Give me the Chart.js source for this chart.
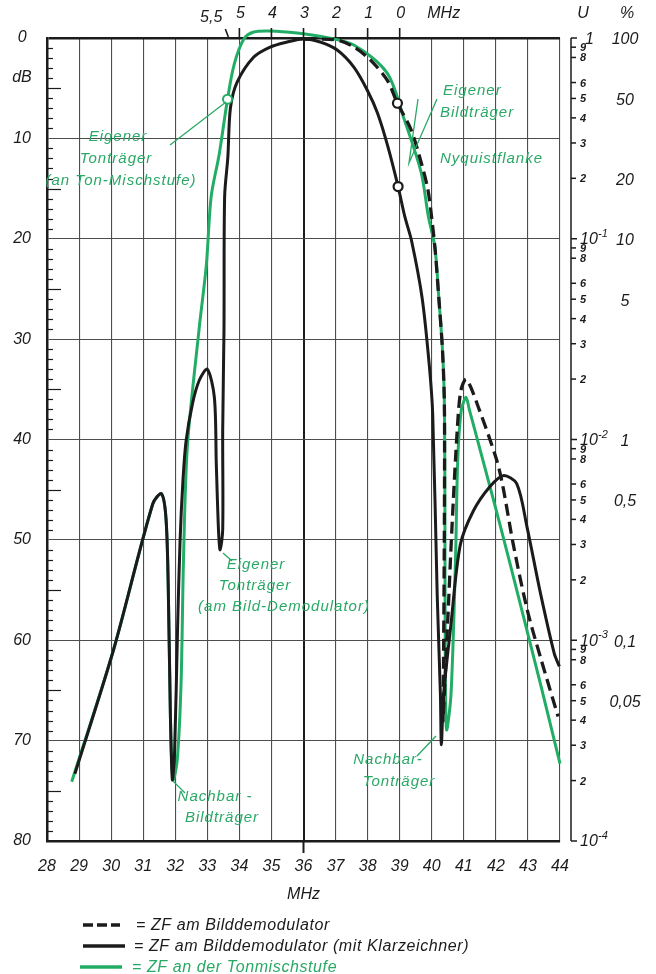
<!DOCTYPE html>
<html><head><meta charset="utf-8">
<script src="https://cdn.jsdelivr.net/npm/chart.js@4.4.0/dist/chart.umd.min.js"></script>
<style>
html,body{margin:0;padding:0;background:#fff;}
#wrap{position:relative;width:656px;height:974px;}
canvas{position:absolute;left:0;top:0;}
</style></head><body>
<div id="wrap"><canvas id="c" width="656" height="974"></canvas></div>
<script>
// ---------- data (MHz, dB) ----------
const freqGreen = [28.77, 30.08, 31.30, 31.57, 31.71, 31.78, 31.85, 31.93, 32.06, 32.18, 32.26, 32.38, 32.74, 32.97, 33.12, 33.37, 33.63, 33.84, 34.14, 34.45, 34.96, 35.80, 36.63, 37.57, 38.61, 39.14, 39.67, 39.89, 40.10, 40.22, 40.33, 40.39, 40.41, 40.42, 40.46, 40.60, 40.74, 40.81, 40.92, 41.07, 41.17, 41.49, 42.13, 42.77, 43.41, 44.00];
const dbGreen   = [74.1, 60.9, 46.4, 45.4, 47.8, 54.4, 67.7, 73.9, 72.0, 64.4, 51.6, 40.6, 29.1, 22.6, 15.8, 11.6, 6.1, 2.6, 0.1, -0.6, -0.7, -0.5, -0.1, 0.7, 3.5, 8.1, 13.4, 17.7, 20.9, 25.9, 30.8, 35.8, 45.8, 60.7, 68.9, 65.4, 52.1, 42.1, 37.1, 35.8, 37.0, 40.8, 48.5, 56.5, 64.6, 72.3];

const freqSolid = [28.87, 30.08, 31.30, 31.57, 31.71, 31.78, 31.85, 31.91, 31.98, 32.07, 32.15, 32.24, 32.34, 32.54, 32.75, 33.00, 33.22, 33.28, 33.35, 33.40, 33.48, 33.48, 33.52, 33.54, 33.64, 33.72, 33.93, 34.45, 34.96, 35.49, 36.01, 36.52, 37.05, 37.57, 37.99, 38.31, 38.63, 38.95, 39.16, 39.37, 39.70, 39.92, 40.03, 40.17, 40.27, 40.30, 40.37, 40.59, 40.89, 41.30, 41.81, 42.23, 42.65, 42.97, 43.39, 43.82, 43.98];
const dbSolid   = [73.3, 60.9, 46.4, 45.4, 47.8, 54.4, 67.7, 73.9, 71.0, 59.1, 50.1, 44.1, 40.1, 36.4, 34.1, 33.0, 35.8, 42.4, 49.1, 51.0, 49.0, 39.1, 29.1, 15.8, 11.9, 7.0, 4.4, 1.9, 0.9, 0.4, 0.1, 0.4, 1.2, 2.9, 5.2, 7.5, 10.8, 14.8, 17.8, 20.2, 25.9, 32.5, 37.5, 55.5, 65.4, 70.4, 65.4, 58.7, 50.5, 47.1, 44.7, 43.6, 44.4, 48.7, 55.3, 61.3, 62.6];

const freqDashed = [36.01, 37.05, 37.57, 38.09, 38.61, 38.93, 39.35, 39.67, 39.88, 39.99, 40.10, 40.22, 40.33, 40.39, 40.40, 40.39, 40.36, 40.35, 40.49, 40.63, 40.80, 40.91, 41.08, 41.49, 42.02, 42.22, 42.54, 42.98, 43.41, 43.94];
const dbDashed   = [0.1, 0.2, 0.9, 2.2, 4.2, 6.5, 9.1, 12.4, 15.1, 17.7, 20.9, 25.9, 30.8, 35.8, 40.8, 50.8, 65.7, 68.0, 58.7, 48.8, 38.8, 35.1, 34.0, 37.1, 42.0, 44.7, 50.4, 57.0, 61.9, 67.6];

// carrier markers (open circles)
const markFreqBlack = [38.93, 38.95];
const markDbBlack   = [6.5, 14.8];
const markFreqGreen = [33.63];
const markDbGreen   = [6.1];

// axis ticks / labels
const xTickStep = 1;
const yTickStep = 10;
const pictureCarrier = 39;
const topOffsets = [5.5, 5, 4, 3, 2, 1, 0];
const topLabels  = ['5,5', '5', '4', '3', '2', '1', '0'];
const uMinorDigits = [9, 8, 6, 5, 4, 3, 2];
const uDecades = [0, 1, 2, 3, 4];
const percentValues = [1, 0.5, 0.2, 0.1, 0.05, 0.01, 0.005, 0.001, 0.0005];
const percentLabels = ['100', '50', '20', '10', '5', '1', '0,5', '0,1', '0,05'];

const legendLabels = ['= ZF am Bilddemodulator', '= ZF am Bilddemodulator (mit Klarzeichner)', '= ZF an der Tonmischstufe'];

// ---------- styling ----------
const GREEN = '#22ad66';
const GREEN_TXT = '#2aa866';
const INK = '#1b1b1b';
const GRID = '#4d4d4d';
const FONT = '"Liberation Sans", Arial, sans-serif';
const font = (s, w) => `italic ${w || ''} ${s}px ${FONT}`;
const CA = {left: 47, right: 560, top: 38, bottom: 841};

const toXY = (fs, ds) => fs.map((f, i) => ({x: f, y: ds[i]}));

const decor = {
  id: 'decor',
  afterDraw(chart) {
    const c = chart.ctx, xs = chart.scales.x, ys = chart.scales.y, a = chart.chartArea;
    const X = v => xs.getPixelForValue(v), Y = v => ys.getPixelForValue(v);
    const yU = u => Y(-20 * Math.log10(u));
    c.save();
    c.strokeStyle = INK; c.fillStyle = INK;

    // left minor ticks
    c.lineWidth = 1.2;
    for (let d = 1; d < 80; d++) {
      if (d % 10 === 0) continue;
      const yy = Math.round(Y(d)) + 0.5, len = d % 5 === 0 ? 14 : 6;
      c.beginPath(); c.moveTo(a.left, yy); c.lineTo(a.left + len, yy); c.stroke();
    }
    // 36 MHz line extends below
    c.lineWidth = 2;
    c.beginPath(); c.moveTo(X(36), a.bottom); c.lineTo(X(36), a.bottom + 12); c.stroke();

    // dB unit
    c.font = font(16); c.textAlign = 'center'; c.textBaseline = 'middle';
    c.fillText('dB', 22, Y(3.9));

    // top offset scale
    c.lineWidth = 1.6;
    topOffsets.forEach((o, i) => {
      const x = X(pictureCarrier - o);
      if (o % 1 !== 0) {
        c.beginPath(); c.moveTo(x + 2, a.top - 9); c.lineTo(x + 5, a.top - 1); c.stroke();
        c.textAlign = 'right'; c.fillText(topLabels[i], x - 1, 18);
      } else {
        c.beginPath(); c.moveTo(x, a.top - 10); c.lineTo(x, a.top); c.stroke();
        c.textAlign = 'center'; c.fillText(topLabels[i], x + 1, 14);
      }
    });
    c.textAlign = 'center';
    c.fillText('MHz', X(pictureCarrier) + 44, 14);

    // right voltage / percent scale
    const ax = a.right + 11;
    c.lineWidth = 1.5;
    c.beginPath(); c.moveTo(ax, yU(1)); c.lineTo(ax, yU(1e-4)); c.stroke();
    c.fillText('U', 583, 14);
    c.fillText('%', 627, 14);
    uDecades.forEach(k => {
      const u = Math.pow(10, -k), y = yU(u);
      c.beginPath(); c.moveTo(ax, y); c.lineTo(ax + 6, y); c.stroke();
      c.textAlign = 'left';
      if (k === 0) {
        c.font = font(16); c.fillText('1', ax + 14, y + 2);
      } else {
        c.font = font(16); c.fillText('10', ax + 9, y + 1);
        c.font = font(11); c.fillText('-' + k, ax + 27, y - 5);
      }
      if (k < 4) {
        c.font = font(11, 'bold');
        uMinorDigits.forEach(m => {
          const yy = yU(m * u / 10);
          c.beginPath(); c.moveTo(ax, yy); c.lineTo(ax + 5, yy); c.stroke();
          c.fillText(String(m), ax + 9, yy + 1);
        });
      }
    });
    c.font = font(16); c.textAlign = 'center';
    percentValues.forEach((u, i) => c.fillText(percentLabels[i], 625, yU(u) + 2));

    // x-axis title
    c.fillText('MHz', X(36), 895);

    // green annotations
    c.fillStyle = GREEN_TXT; c.strokeStyle = GREEN_TXT; c.lineWidth = 1.3;
    c.font = font(15);
    try { c.letterSpacing = '1px'; } catch (e) {}
    const txt = (s, x, y, al) => { c.textAlign = al || 'center'; c.fillText(s, x, y); };
    const seg = pts => { c.beginPath(); c.moveTo(pts[0][0], pts[0][1]); for (let i = 1; i < pts.length; i++) c.lineTo(pts[i][0], pts[i][1]); c.stroke(); };
    txt('Eigener', 118, 137); txt('Tonträger', 116, 159); txt('(an Ton-Mischstufe)', 121, 181);
    seg([[170, 145], [226, 102]]);
    txt('Eigener', 443, 91, 'left'); txt('Bildträger', 440, 113, 'left'); txt('Nyquistflanke', 440, 159, 'left');
    seg([[418, 99], [409, 163], [437, 99]]);
    txt('Eigener', 256, 565); txt('Tonträger', 255, 586); txt('(am Bild-Demodulator)', 284, 607);
    seg([[223, 553], [232, 561]]);
    txt('Nachbar -', 215, 797); txt('Bildträger', 222, 818);
    seg([[173, 781], [185, 793]]);
    txt('Nachbar-', 388, 760); txt('Tonträger', 399, 782);
    seg([[436, 736], [417, 756]]);

    // legend
    try { c.letterSpacing = '0.6px'; } catch (e) {}
    c.font = font(16); c.textAlign = 'left';
    c.lineWidth = 3.5; c.lineCap = 'butt';
    c.strokeStyle = INK; c.setLineDash([10, 4]);
    seg([[83, 925], [120, 925]]);
    c.setLineDash([]);
    seg([[83, 946], [125, 946]]);
    c.strokeStyle = GREEN;
    seg([[80, 967], [122, 967]]);
    c.fillStyle = INK;
    c.fillText(legendLabels[0], 136, 926);
    c.fillText(legendLabels[1], 134, 947);
    c.fillStyle = GREEN_TXT;
    c.fillText(legendLabels[2], 132, 968);
    c.restore();
  }
};

const lineDs = (label, fs, ds, color, extra) => Object.assign({
  label, data: toXY(fs, ds), showLine: true, borderColor: color, backgroundColor: color,
  borderWidth: 3, pointRadius: 0, tension: 0.3, clip: false, fill: false
}, extra || {});

new Chart(document.getElementById('c'), {
  type: 'scatter',
  data: {
    datasets: [
      {label: 'marks', data: toXY(markFreqBlack, markDbBlack), showLine: false, pointRadius: 4.5,
       pointBackgroundColor: '#fff', pointBorderColor: INK, pointBorderWidth: 2.2, order: 0, clip: false},
      {label: 'marksG', data: toXY(markFreqGreen, markDbGreen), showLine: false, pointRadius: 4.5,
       pointBackgroundColor: '#fff', pointBorderColor: GREEN, pointBorderWidth: 2, order: 0, clip: false},
      lineDs(legendLabels[1], freqSolid, dbSolid, INK, {order: 1}),
      lineDs(legendLabels[0], freqDashed, dbDashed, INK, {order: 2, borderDash: [12, 6], borderWidth: 3.3}),
      lineDs(legendLabels[2], freqGreen, dbGreen, GREEN, {order: 3})
    ]
  },
  options: {
    responsive: false, animation: false, devicePixelRatio: 1,
    elements: {line: {capBezierPoints: false}},
    layout: {padding: {left: 0, top: CA.top, right: 656 - CA.right, bottom: 974 - CA.bottom - 50}},
    plugins: {legend: {display: false}, tooltip: {enabled: false}},
    scales: {
      x: {
        type: 'linear', min: 28, max: 44,
        afterFit: s => { s.height = 50; },
        ticks: {stepSize: xTickStep, autoSkip: false, maxRotation: 0, padding: 16, color: INK,
                font: {family: FONT, size: 16, style: 'italic'}},
        grid: {drawTicks: false,
               color: ctx => ctx.tick && ctx.tick.value === 36 ? INK : GRID,
               lineWidth: ctx => ctx.tick && ctx.tick.value === 36 ? 2 : 1.1},
        border: {color: INK, width: 2.5}
      },
      y: {
        type: 'linear', reverse: true, min: 0, max: 80,
        afterFit: s => { s.width = CA.left; },
        ticks: {stepSize: yTickStep, padding: 16, crossAlign: 'center', color: INK,
                font: {family: FONT, size: 16, style: 'italic'}},
        grid: {drawTicks: false,
               color: ctx => ctx.tick && ctx.tick.value === 0 ? INK : GRID,
               lineWidth: ctx => ctx.tick && ctx.tick.value === 0 ? 2.5 : 1.1},
        border: {color: INK, width: 2.5}
      }
    }
  },
  plugins: [decor]
});
</script>
</body></html>
